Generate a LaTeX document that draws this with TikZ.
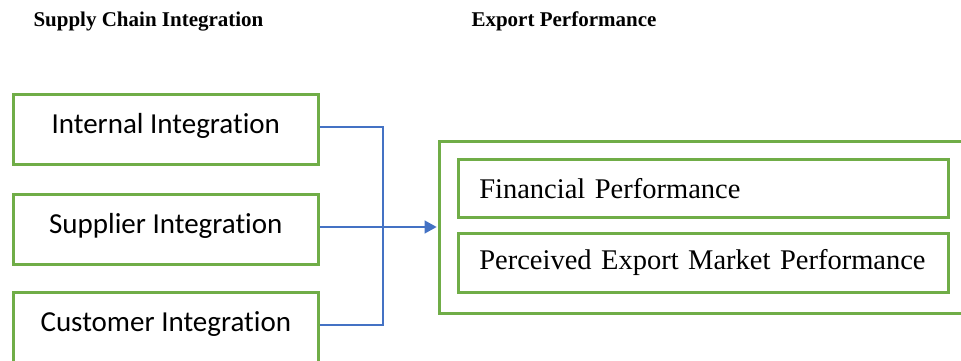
\documentclass[tikz,border=0pt]{standalone}
\usepackage{fontspec}
\setmainfont{Liberation Serif}
\newfontfamily\boxsans[RawFeature=-liga]{Carlito}
\usetikzlibrary{arrows.meta}
\definecolor{boxgreen}{HTML}{70AD47}
\definecolor{linkblue}{HTML}{4472C4}
\begin{document}
\begin{tikzpicture}[x=1pt,y=-1pt,
  greenbox/.style={draw=boxgreen,line width=2.6pt,fill=white,inner sep=0pt,anchor=north west},
  srcbox/.style={greenbox,minimum width=305pt,minimum height=70pt,
    font=\boxsans\fontsize{29}{32}\selectfont,text depth=12pt},
  perfbox/.style={greenbox,minimum width=490pt,minimum height=58pt,
    font=\fontsize{28.5}{32}\selectfont,text width=460pt,align=left},
  link/.style={draw=linkblue,line width=1.2pt},
  heading/.style={font=\bfseries\fontsize{21}{24}\selectfont,anchor=base west}]
\useasboundingbox (0,0) rectangle (961,360);
\clip (0,0) rectangle (961,360);
\fill[white] (0,0) rectangle (961,360);

% column headings
\node[heading] (h1) at (30,26) {Supply Chain Integration};
\node[heading] (h2) at (468,26) {Export Performance};

% integration dimensions
\node[srcbox] (ii) at (12,93) {Internal Integration};
\node[srcbox] (si) at (12,193) {Supplier Integration};
\node[srcbox] (ci) at (12,291) {Customer Integration};

% export performance group
\node[greenbox,minimum width=530pt,minimum height=172pt] (ep) at (438,140) {};
\node[perfbox] (fp) at (457,158) {\hspace*{6pt}Financial Performance};
\node[perfbox,minimum height=59pt] (pe) at (457,232) {\hspace*{6pt}Perceived Export Market Performance};

% connectors joining the three dimensions
\coordinate (iiout) at (ii.east |- 0,127);
\coordinate (ciout) at (ci.east |- 0,325);
\coordinate (siout) at (si.east |- 0,227);
\coordinate (bustop) at (383,127);
\coordinate (busbot) at (383,325);
\draw[link] (iiout) -- (bustop) -- (busbot) -- (ciout);
\draw[link,-{Triangle[length=12pt,width=13pt]}] (siout) -- ([xshift=-1.4pt]ep.west |- siout);
\end{tikzpicture}
\end{document}
